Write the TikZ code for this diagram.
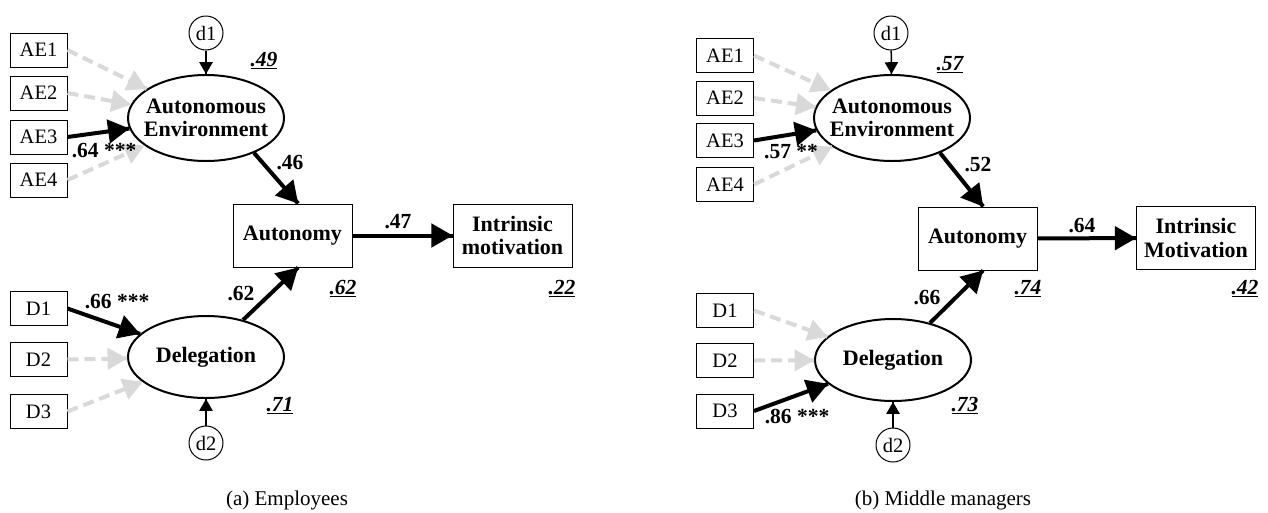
\documentclass[tikz,border=0pt]{standalone}
\usepackage{fontspec}
\setmainfont{Liberation Serif}
\usepackage{tikz}
\usetikzlibrary{arrows,decorations.markings}
\usetikzlibrary{shapes}
\tikzset{strelica1/.style={decoration={markings,mark=at position 1 with %
    {\arrow[scale=1.2,>=triangle 60]{>}}},postaction={decorate}}}
\tikzset{strelica2/.style={decoration={markings,mark=at position 1 with %
    {\arrow[scale=1.1,>=triangle 60]{>}}},postaction={decorate}}}
\tikzset{strelica3/.style={decoration={markings,mark=at position 1 with %
    {\arrow[scale=1.3,>=triangle 60]{>}}},postaction={decorate}}}
\tikzset{puna/.style={line width=4pt, strelica1},
    siva/.style={line width=4pt, color=gray!30, dash pattern=on 11pt off 6pt, strelica2},
    tanka/.style={line width=1.5pt, strelica3},
    kutija/.style={draw, line width=1pt, minimum width=57pt, minimum height=34pt,
        inner sep=0pt, font=\fontsize{20.5}{22}\selectfont},
    velika/.style={draw, line width=1pt, minimum width=119pt, minimum height=63pt,
        inner sep=0pt, align=center, font=\fontsize{22}{23.5}\selectfont\bfseries},
    elipsa/.style={draw, ellipse, line width=2pt, minimum width=156pt, minimum height=86pt,
        inner sep=-14pt, align=center, font=\fontsize{22}{23.5}\selectfont\bfseries},
    krug/.style={draw, circle, line width=1pt, minimum size=34pt, inner sep=0pt,
        font=\fontsize{20.5}{22}\selectfont},
    koef/.style={anchor=base, inner sep=0pt, font=\fontsize{21.5}{23}\selectfont\bfseries},
    rkv/.style={anchor=base, inner sep=0pt, font=\fontsize{21.5}{23}\selectfont\bfseries\itshape},
    natpis/.style={inner sep=0pt, font=\fontsize{21}{23}\selectfont}}

\begin{document}
\begin{tikzpicture}[x=1pt, y=-1pt]
    \useasboundingbox (0, 0) rectangle (1268, 512);

    %zaposlenici
    \node[kutija] (ae1a) at (38.5, 50) {AE1};
    \node[kutija] (ae2a) at (38.5, 93) {AE2};
    \node[kutija] (ae3a) at (38.5, 137) {AE3};
    \node[kutija] (ae4a) at (38.5, 180) {AE4};
    \node[elipsa] (enva) at (206, 118) {Autonomous\\Environment};
    \node[krug] (d1a) at (206, 33) {d1};
    \node[velika] (auta) at (292.5, 235.5) {Autonomy};
    \node[velika] (imota) at (512.5, 235.5) {Intrinsic\\motivation};
    \node[elipsa, minimum height=82pt] (dela) at (206, 357) {Delegation};
    \node[kutija] (dd1a) at (38.5, 308.5) {D1};
    \node[kutija] (dd2a) at (38.5, 359.5) {D2};
    \node[kutija] (dd3a) at (38.5, 411.5) {D3};
    \node[krug] (d2a) at (206, 443) {d2};

    \draw[siva] (ae1a.east) -- (enva);
    \draw[siva] (ae2a.east) -- (enva);
    \draw[puna] (ae3a.east) -- (enva);
    \draw[siva] (ae4a.east) -- (enva);
    \draw[puna] (dd1a.east) -- (dela);
    \draw[siva] (dd2a.east) -- (dela);
    \draw[siva] (dd3a.east) -- (dela);
    \draw[tanka] (d1a) -- (enva);
    \draw[tanka] (d2a) -- (dela);
    \draw[puna] (enva.-36) -- (auta.80);
    \draw[puna] (dela.45) -- (auta.-80);
    \draw[puna] (auta) -- (imota);

    \node[rkv] (r1a) at (264, 66) {\underline{.49}};
    \node[koef] (k1a) at (290, 169) {.46};
    \node[koef] (k2a) at (104, 157) {.64 ***};
    \node[koef] (k3a) at (398, 228) {.47};
    \node[rkv] (r2a) at (343, 294) {\underline{.62}};
    \node[rkv] (r3a) at (562, 294) {\underline{.22}};
    \node[koef] (k4a) at (241, 300) {.62};
    \node[koef] (k5a) at (117, 308) {.66 ***};
    \node[rkv] (r4a) at (280, 411) {\underline{.71}};
    \node[natpis] (capa) at (287, 500) {(a) Employees};

    %srednji menadzeri
    \node[kutija] (ae1b) at (725, 55.5) {AE1};
    \node[kutija] (ae2b) at (725, 98) {AE2};
    \node[kutija] (ae3b) at (725, 140.5) {AE3};
    \node[kutija] (ae4b) at (725, 184.5) {AE4};
    \node[elipsa] (envb) at (892, 118) {Autonomous\\Environment};
    \node[krug] (d1b) at (891, 33) {d1};
    \node[velika] (autb) at (977.5, 238.5) {Autonomy};
    \node[velika] (imotb) at (1196, 238) {Intrinsic\\Motivation};
    \node[elipsa, minimum height=82pt] (delb) at (893, 360) {Delegation};
    \node[kutija] (dd1b) at (725, 310.5) {D1};
    \node[kutija] (dd2b) at (725, 360.5) {D2};
    \node[kutija] (dd3b) at (725, 411) {D3};
    \node[krug] (d2b) at (893, 445) {d2};

    \draw[siva] (ae1b.east) -- (envb);
    \draw[siva] (ae2b.east) -- (envb);
    \draw[puna] (ae3b.east) -- (envb);
    \draw[siva] (ae4b.east) -- (envb);
    \draw[siva] (dd1b.east) -- (delb);
    \draw[siva] (dd2b.east) -- (delb);
    \draw[puna] (dd3b.east) -- (delb);
    \draw[tanka] (d1b) -- (envb);
    \draw[tanka] (d2b) -- (delb);
    \draw[puna] (envb.-36) -- (autb.80);
    \draw[puna] (delb.45) -- (autb.-80);
    \draw[puna] (autb) -- (imotb);

    \node[rkv] (r1b) at (950, 70) {\underline{.57}};
    \node[koef] (k1b) at (791, 158) {.57 **};
    \node[koef] (k2b) at (978, 171) {.52};
    \node[koef] (k3b) at (1082, 232) {.64};
    \node[rkv] (r2b) at (1028, 294) {\underline{.74}};
    \node[rkv] (r3b) at (1245, 294) {\underline{.42}};
    \node[koef] (k4b) at (927, 304) {.66};
    \node[koef] (k5b) at (797, 423) {.86 ***};
    \node[rkv] (r4b) at (965, 411) {\underline{.73}};
    \node[natpis] (capb) at (943, 500) {(b) Middle managers};
\end{tikzpicture}
\end{document}
